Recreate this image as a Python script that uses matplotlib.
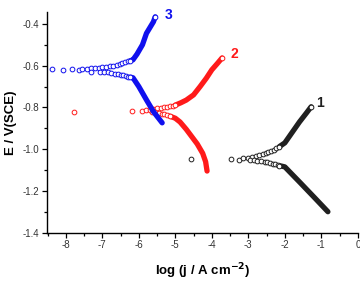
import matplotlib
matplotlib.use('Agg')
import numpy as np
import matplotlib.pyplot as plt
from matplotlib.ticker import MultipleLocator

plt.rcParams['font.family'] = ['Liberation Sans', 'DejaVu Sans']

# curve 1 (black)
c1_tail_x = [-4.57, -3.47, -3.25, -3.14, -3.0, -2.9, -2.8, -2.7, -2.6, -2.52, -2.45, -2.38, -2.3, -2.23, -2.15,
             -2.95, -2.85, -2.75, -2.65, -2.55, -2.48, -2.4, -2.33, -2.26, -2.2, -2.15]
c1_tail_y = [-1.046, -1.046, -1.05, -1.043, -1.042, -1.039, -1.035, -1.03, -1.025, -1.02, -1.015, -1.009, -1.003, -0.996, -0.988,
             -1.051, -1.054, -1.057, -1.059, -1.062, -1.064, -1.067, -1.07, -1.073, -1.076, -1.079]
c1_an_x = [-2.15, -2.0, -1.8, -1.6, -1.4, -1.28]
c1_an_y = [-0.988, -0.97, -0.92, -0.87, -0.825, -0.797]
c1_cat_x = [-2.15, -2.0, -1.6, -1.2, -0.82]
c1_cat_y = [-1.079, -1.085, -1.157, -1.23, -1.30]

# curve 2 (red)
c2_tail_x = [-7.78, -6.19, -5.92, -5.8, -5.7, -5.6, -5.5, -5.4, -5.3, -5.22, -5.15, -5.07, -5.0,
             -5.65, -5.55, -5.45, -5.37, -5.3, -5.22, -5.15]
c2_tail_y = [-0.82, -0.816, -0.815, -0.812, -0.813, -0.808, -0.805, -0.802, -0.8, -0.797, -0.795, -0.792, -0.789,
             -0.82, -0.824, -0.828, -0.831, -0.834, -0.838, -0.842]
c2_an_x = [-5.0, -4.85, -4.7, -4.5, -4.32, -4.15, -4.0, -3.85, -3.72]
c2_an_y = [-0.789, -0.778, -0.765, -0.74, -0.70, -0.66, -0.62, -0.59, -0.563]
c2_cat_x = [-5.15, -5.0, -4.87, -4.7, -4.55, -4.4, -4.25, -4.17, -4.13]
c2_cat_y = [-0.842, -0.852, -0.87, -0.905, -0.94, -0.975, -1.02, -1.06, -1.105]

# curve 3 (blue)
c3_tail_x = [-8.37, -8.07, -7.82, -7.65, -7.56, -7.43, -7.3, -7.2, -7.1, -7.0, -6.9, -6.8, -6.7, -6.6, -6.52,
             -6.45, -6.38, -6.3, -6.23,
             -7.32, -7.07, -6.95, -6.85, -6.75, -6.65, -6.58, -6.5, -6.43, -6.36, -6.3, -6.23]
c3_tail_y = [-0.617, -0.623, -0.615, -0.623, -0.615, -0.615, -0.613, -0.612, -0.61, -0.608, -0.606, -0.603, -0.6, -0.595, -0.592,
             -0.588, -0.584, -0.58, -0.576,
             -0.628, -0.628, -0.63, -0.632, -0.636, -0.638, -0.641, -0.644, -0.647, -0.65, -0.652, -0.655]
c3_an_x = [-6.23, -6.16, -6.05, -5.9, -5.79, -5.6, -5.55]
c3_an_y = [-0.576, -0.572, -0.545, -0.50, -0.445, -0.39, -0.366]
c3_cat_x = [-6.23, -6.16, -6.0, -5.79, -5.6, -5.36]
c3_cat_y = [-0.655, -0.658, -0.70, -0.764, -0.82, -0.874]

curves = [
    ('1', '#202020', c1_tail_x, c1_tail_y, c1_an_x, c1_an_y, c1_cat_x, c1_cat_y, (-1.15, -0.78)),
    ('2', '#ff1a1a', c2_tail_x, c2_tail_y, c2_an_x, c2_an_y, c2_cat_x, c2_cat_y, (-3.5, -0.545)),
    ('3', '#1010ee', c3_tail_x, c3_tail_y, c3_an_x, c3_an_y, c3_cat_x, c3_cat_y, (-5.3, -0.357)),
]

fig = plt.figure(figsize=(3.6, 2.84), dpi=100)
ax = fig.add_axes([0.13, 0.181, 0.864, 0.777])

for name, col, tx, ty, ax_x, ax_y, cx, cy, lab in curves:
    ax.plot(ax_x, ax_y, '-', color=col, lw=3.8, solid_capstyle='round')
    ax.plot(cx, cy, '-', color=col, lw=3.8, solid_capstyle='round')
    ax.plot(tx, ty, 'o', ls='none', ms=3.4, mfc='white', mec=col, mew=0.7)
    ax.plot(ax_x[-1], ax_y[-1], 'o', ms=3.4, mfc='white', mec=col, mew=0.7)
    ax.text(lab[0], lab[1], name, color=col, fontsize=10, fontweight='bold',
            ha='left', va='center')

ax.set_xlim(-8.52, 0)
ax.set_ylim(-1.4, -0.3425)
ax.xaxis.set_minor_locator(MultipleLocator(0.5))
ax.yaxis.set_minor_locator(MultipleLocator(0.1))
ax.set_yticks([-1.4, -1.2, -1.0, -0.8, -0.6, -0.4])
ax.set_yticklabels(['-1.4', '-1.2', '-1.0', '-0.8', '-0.6', '-0.4'])
ax.set_xticks([-8, -7, -6, -5, -4, -3, -2, -1, 0])
ax.set_xticklabels(['-8', '-7', '-6', '-5', '-4', '-3', '-2', '-1', '0'])
ax.tick_params(which='major', direction='out', length=3.5, width=0.9, labelsize=7, pad=2,
               labelcolor='#333333')
ax.tick_params(which='minor', direction='out', length=2, width=0.9)

ax.spines['top'].set_visible(False)
ax.spines['right'].set_visible(False)
ax.spines['left'].set_linewidth(1.0)
ax.spines['bottom'].set_linewidth(1.0)

ax.set_xlabel('log (j / A cm$^{\\mathbf{-2}}$)', fontsize=9.5, fontweight='bold', labelpad=8)
ax.set_ylabel('E / V(SCE)', fontsize=9.5, fontweight='bold', labelpad=4)

plt.savefig('out.png', dpi=100)
